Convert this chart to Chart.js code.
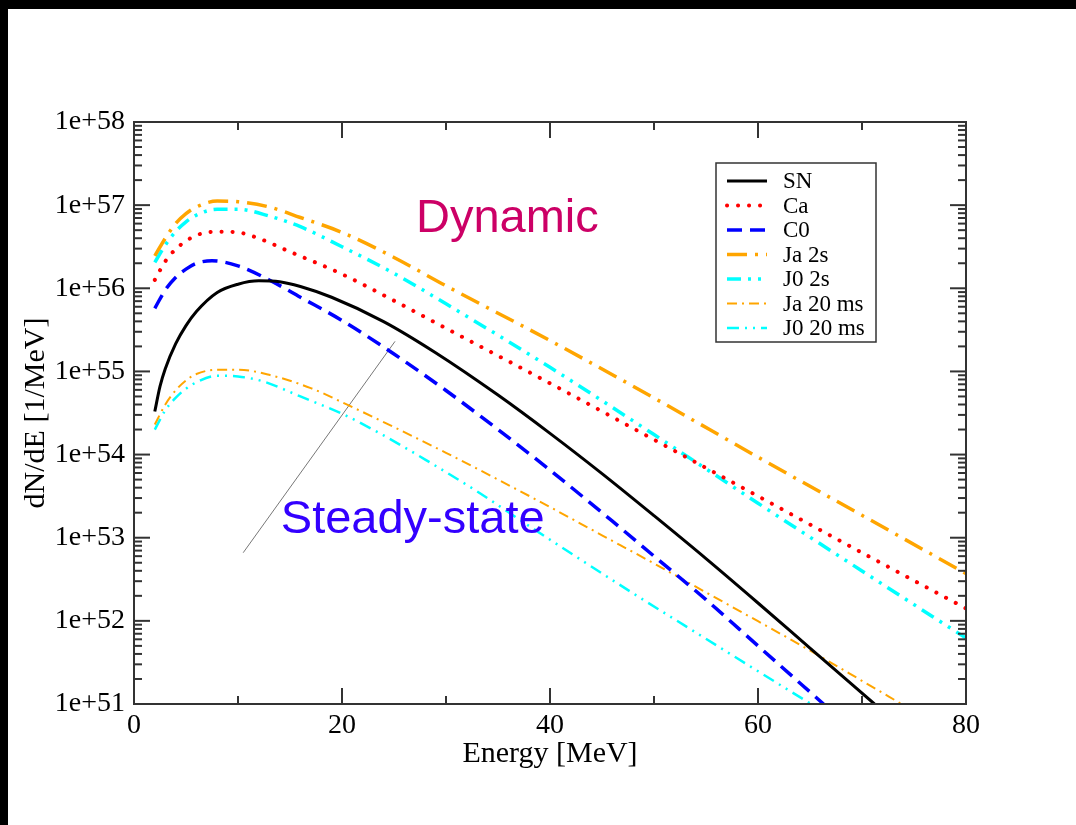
<!DOCTYPE html>
<html>
<head>
<meta charset="utf-8">
<script src="https://cdn.jsdelivr.net/npm/chart.js@4/dist/chart.umd.min.js"></script>
<style>
  html, body { margin: 0; padding: 0; background: #000; }
  #wrap { position: absolute; left: 8px; top: 9px; width: 1068px; height: 816px; background: #fff; }
</style>
</head>
<body>
<div id="wrap"><canvas id="chart"></canvas></div>
<script>
// energies [MeV] and dN/dE [1/MeV]
const snE = [2, 2.5, 3, 4, 5, 6, 8, 10, 12, 14, 16, 19, 24, 29, 35, 40, 45, 50, 55, 60, 65, 71.2];
const snN = [3.3e54, 6.6e54, 1.07e55, 2.14e55, 3.55e55, 5.25e55, 8.9e55, 1.12e56, 1.23e56, 1.2e56, 1.05e56, 7.8e55, 3.98e55, 1.68e55, 5.2e54, 1.8e54, 5.9e53, 1.84e53, 5.6e52, 1.64e52, 4.7e51, 1.0e51];

const caE = [2, 3, 4, 5, 6, 8, 10, 12, 15, 20, 25, 30, 40, 50, 60, 70, 80];
const caN = [1.26e56, 2.1e56, 2.95e56, 3.7e56, 4.35e56, 4.8e56, 4.7e56, 3.98e56, 2.75e56, 1.48e56, 7.1e55, 3.3e55, 7.2e54, 1.51e54, 3.16e53, 6.6e52, 1.41e52];

const c0E = [2, 3, 4, 5, 6, 7.5, 10, 13, 16, 20, 25, 30, 35, 40, 46, 50, 55, 60, 66.3];
const c0N = [5.75e55, 9.5e55, 1.35e56, 1.7e56, 2.0e56, 2.14e56, 1.86e56, 1.26e56, 7.8e55, 4.1e55, 1.62e55, 5.9e54, 2.0e54, 6.5e53, 1.58e53, 6.0e52, 1.8e52, 5.0e51, 1.0e51];

const ja2E = [2, 3, 4, 5, 6, 8, 10, 13, 16, 20, 25, 30, 40, 50, 60, 70, 80];
const ja2N = [2.45e56, 3.98e56, 6.0e56, 7.9e56, 9.5e56, 1.12e57, 1.1e57, 9.5e56, 7.1e56, 4.7e56, 2.35e56, 1.07e56, 2.35e55, 4.8e54, 9.3e53, 1.86e53, 3.7e52];

const j02E = [2, 3, 4, 5, 6, 8, 10, 13, 16, 20, 25, 30, 40, 50, 60, 70, 80];
const j02N = [2.05e56, 3.3e56, 4.8e56, 6.3e56, 7.6e56, 8.9e56, 8.9e56, 7.4e56, 5.5e56, 3.16e56, 1.51e56, 6.5e55, 1.12e55, 1.74e54, 2.6e53, 3.98e52, 6.2e51];

const ja20E = [2, 3, 4, 5, 6, 8, 10, 13, 17, 20.5, 25, 30, 35, 40, 45, 50, 55, 60, 65, 70, 73.8];
const ja20N = [2.3e54, 3.98e54, 5.9e54, 7.8e54, 9.3e54, 1.05e55, 1.05e55, 9.1e54, 6.3e54, 3.98e54, 2.14e54, 1.05e54, 5.0e53, 2.34e53, 1.07e53, 4.9e52, 2.2e52, 9.9e51, 4.4e51, 1.9e51, 1.0e51];

const j020E = [2, 3, 4, 5, 6, 8, 10, 12.4, 16, 20, 24, 28, 33, 38, 43, 48, 53, 58, 63, 65.1];
const j020N = [2.0e54, 3.4e54, 4.8e54, 6.2e54, 7.4e54, 8.9e54, 8.7e54, 7.6e54, 5.0e54, 3.1e54, 1.7e54, 8.7e53, 3.6e53, 1.38e53, 5.4e52, 2.14e52, 8.7e51, 3.55e51, 1.45e51, 1.0e51];

// thin pointer line between the two labels
const guideE = [10.5, 25.1];
const guideN = [6.6e52, 2.3e55];

const yDecades = [1e51, 1e52, 1e53, 1e54, 1e55, 1e56, 1e57, 1e58];
const xMajor = [0, 20, 40, 60, 80];
const xMinor = [10, 30, 50, 70];

const SERIF = "'Liberation Serif', 'Times New Roman', serif";
const SANS = "'Liberation Sans', Arial, sans-serif";

function points(es, ns) {
  return es.map((e, i) => ({ x: e, y: ns[i] }));
}

function curve(label, es, ns, color, width, dash) {
  return {
    label,
    data: points(es, ns),
    borderColor: color,
    borderWidth: width,
    borderDash: dash,
    borderCapStyle: dash.length && dash[0] < 1 ? "round" : "butt",
    pointRadius: 0,
    cubicInterpolationMode: "monotone",
    fill: false,
  };
}

const datasets = [
  curve("SN", snE, snN, "#000000", 3, []),
  curve("Ca", caE, caN, "#ff0000", 4, [0.1, 10.9]),
  curve("C0", c0E, c0N, "#0000ff", 3.5, [15, 8]),
  curve("Ja 2s", ja2E, ja2N, "#ffa500", 3.5, [20, 8, 3, 8]),
  curve("J0 2s", j02E, j02N, "#00ffff", 3.5, [14, 7, 3, 7, 3, 7]),
  curve("Ja 20 ms", ja20E, ja20N, "#ffa500", 2, [10, 5, 2, 5]),
  curve("J0 20 ms", j020E, j020N, "#00ffff", 2.5, [12, 6, 2, 6, 2, 6]),
];
const legendCount = datasets.length;
datasets.push({
  label: "guide",
  data: points(guideE, guideN),
  borderColor: "#777",
  borderWidth: 1,
  pointRadius: 0,
  tension: 0,
});

const framePlugin = {
  id: "frame",
  afterDatasetsDraw(chart) {
    const { ctx, chartArea: a, scales: { x, y } } = chart;
    ctx.save();
    ctx.strokeStyle = "#333";
    ctx.lineWidth = 2;
    const line = (x1, y1, x2, y2) => { ctx.beginPath(); ctx.moveTo(x1, y1); ctx.lineTo(x2, y2); ctx.stroke(); };
    yDecades.forEach((v) => {
      const py = y.getPixelForValue(v);
      line(a.left, py, a.left + 16, py);
      line(a.right, py, a.right - 16, py);
      if (v >= 1e58) return;
      for (let m = 2; m <= 9; m++) {
        const pm = y.getPixelForValue(v * m);
        line(a.left, pm, a.left + 8, pm);
        line(a.right, pm, a.right - 8, pm);
      }
    });
    xMajor.forEach((v) => {
      const px = x.getPixelForValue(v);
      line(px, a.bottom, px, a.bottom - 16);
      line(px, a.top, px, a.top + 16);
    });
    xMinor.forEach((v) => {
      const px = x.getPixelForValue(v);
      line(px, a.bottom, px, a.bottom - 8);
      line(px, a.top, px, a.top + 8);
    });
    ctx.strokeRect(a.left, a.top, a.right - a.left, a.bottom - a.top);
    ctx.restore();
  },
};

const notesPlugin = {
  id: "notes",
  afterDatasetsDraw(chart) {
    const { ctx, scales: { x, y } } = chart;
    ctx.save();
    ctx.font = `47px ${SANS}`;
    ctx.textAlign = "center";
    ctx.textBaseline = "alphabetic";
    ctx.fillStyle = "#cc0066";
    ctx.fillText("Dynamic", x.getPixelForValue(35.9), y.getPixelForValue(4.7e56));
    ctx.fillStyle = "#3300ff";
    ctx.fillText("Steady-state", x.getPixelForValue(26.8), y.getPixelForValue(1.15e53));
    ctx.restore();
  },
};

const legendPlugin = {
  id: "boxLegend",
  afterDraw(chart) {
    const { ctx, chartArea: a } = chart;
    const left = a.right - 250;
    const top = a.top + 41;
    ctx.save();
    ctx.fillStyle = "#fff";
    ctx.fillRect(left, top, 160, 179);
    ctx.strokeStyle = "#333";
    ctx.lineWidth = 1.5;
    ctx.strokeRect(left, top, 160, 179);
    ctx.font = `23px ${SERIF}`;
    ctx.textBaseline = "middle";
    ctx.textAlign = "left";
    for (let i = 0; i < legendCount; i++) {
      const ds = chart.data.datasets[i];
      const cy = top + 18 + i * 24.5;
      ctx.strokeStyle = ds.borderColor;
      ctx.lineWidth = ds.borderWidth;
      ctx.lineCap = ds.borderCapStyle;
      ctx.setLineDash(ds.borderDash);
      ctx.beginPath();
      ctx.moveTo(left + 11, cy);
      ctx.lineTo(left + 51, cy);
      ctx.stroke();
      ctx.setLineDash([]);
      ctx.fillStyle = "#000";
      ctx.fillText(ds.label, left + 67, cy + 1);
    }
    ctx.restore();
  },
};

new Chart(document.getElementById("chart"), {
  type: "line",
  data: { datasets },
  options: {
    responsive: true,
    maintainAspectRatio: false,
    animation: false,
    layout: { padding: { top: 113, right: 110, bottom: 0, left: 0 } },
    plugins: { legend: { display: false }, tooltip: { enabled: false } },
    scales: {
      x: {
        type: "linear",
        min: 0,
        max: 80,
        grid: { display: false, drawTicks: false },
        border: { display: false },
        afterBuildTicks: (scale) => { scale.ticks = xMajor.map((v) => ({ value: v })); },
        ticks: { padding: 5, color: "#000", font: { family: SERIF, size: 28 }, maxRotation: 0 },
        title: { display: true, text: "Energy [MeV]", color: "#000", font: { family: SERIF, size: 30 }, padding: { top: 0, bottom: 53 } },
        afterFit: (scale) => { scale.height = 121; },
      },
      y: {
        type: "logarithmic",
        min: 1e51,
        max: 1e58,
        grid: { display: false, drawTicks: false },
        border: { display: false },
        afterBuildTicks: (scale) => { scale.ticks = yDecades.map((v) => ({ value: v })); },
        ticks: {
          padding: 9,
          color: "#000",
          font: { family: SERIF, size: 28 },
          callback: (v) => `1e+${Math.round(Math.log10(v))}`,
        },
        title: { display: true, text: "dN/dE [1/MeV]", color: "#000", font: { family: SERIF, size: 30 }, padding: { top: 10, bottom: 0 } },
        afterFit: (scale) => { scale.width = 126; },
      },
    },
  },
  plugins: [framePlugin, notesPlugin, legendPlugin],
});
</script>
</body>
</html>
